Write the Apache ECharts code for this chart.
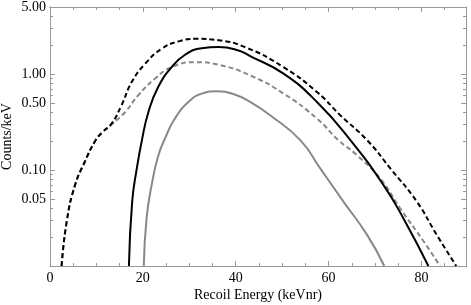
<!DOCTYPE html>
<html><head><meta charset="utf-8">
<script src="https://cdn.jsdelivr.net/npm/echarts@6/dist/echarts.min.js"></script>
<style>html,body{margin:0;padding:0;background:#fff}#c{width:471px;height:305px}</style>
</head><body><div id="c"></div>
<script>
// Black dashed
const bdX = [2.5, 3.6, 5.4, 7.5, 9.7, 11.2, 13.3, 15.4, 17.6, 20.5, 24.1, 27.7, 31.3, 36.3, 42, 50.3, 57.5, 62.5, 68.3, 73.3, 79, 83.3, 87.5];
const bdY = [0.01, 0.029, 0.07, 0.122, 0.2, 0.245, 0.306, 0.473, 0.826, 1.28, 1.84, 2.19, 2.33, 2.25, 1.91, 1.18, 0.65, 0.373, 0.205, 0.104, 0.0469, 0.0211, 0.01];
// Gray dashed
const gdX = [2.5, 3.6, 5.4, 7.5, 9.7, 11.2, 13.3, 16.2, 19, 22.6, 26.2, 31.3, 36.3, 43.1, 50.3, 57.5, 62.1, 66.1, 71.1, 75.4, 80.5, 84];
const gdY = [0.01, 0.029, 0.07, 0.122, 0.2, 0.245, 0.3, 0.403, 0.6, 0.895, 1.18, 1.33, 1.25, 0.97, 0.626, 0.344, 0.205, 0.143, 0.082, 0.04, 0.018, 0.01];
// Black solid
const bsX = [17, 17.7, 18.7, 19.8, 21.2, 23.3, 26.2, 29.1, 32.7, 36.3, 40.6, 43.1, 50.3, 57.5, 64.7, 71.8, 76.1, 81.5];
const bsY = [0.01, 0.0469, 0.104, 0.205, 0.403, 0.733, 1.18, 1.59, 1.86, 1.91, 1.76, 1.54, 1.01, 0.512, 0.205, 0.07, 0.0315, 0.01];
// Gray solid
const gsX = [20.2, 20.8, 21.9, 23.3, 24.8, 26.9, 29.8, 32.7, 35.9, 39.9, 43.1, 47.4, 53.9, 58.2, 63.2, 68.3, 72];
const gsY = [0.01, 0.0315, 0.07, 0.14, 0.215, 0.344, 0.512, 0.626, 0.661, 0.61, 0.512, 0.373, 0.205, 0.104, 0.0469, 0.0211, 0.01];

const xMajor = [0, 20, 40, 60, 80];
const xMinor = [5, 10, 15, 25, 30, 35, 45, 50, 55, 65, 70, 75, 85];
const yMajor = [0.05, 0.1, 0.5, 1, 5];
const yMinor = [0.02, 0.03, 0.04, 0.06, 0.07, 0.08, 0.09, 0.2, 0.3, 0.4, 0.6, 0.7, 0.8, 0.9, 2, 3, 4];

const zip = (xs, ys) => xs.map((x, i) => [x, ys[i]]);
const font = 'Liberation Serif';
const frame = '#999';

function xAx(pos, ticks, len, labels, name) {
  return {
    type: 'value', position: pos, min: 0, max: 89.6,
    axisLine: {show: true, onZero: false, lineStyle: {color: frame, width: 1}},
    axisTick: {show: true, inside: true, length: len, customValues: ticks, lineStyle: {color: frame}},
    axisLabel: labels ? {show: true, customValues: ticks, color: '#000', fontFamily: font, fontSize: 14, margin: 5} : {show: false},
    splitLine: {show: false},
    name: name || '', nameLocation: 'middle', nameGap: 22, nameMoveOverlap: false,
    nameTextStyle: {color: '#000', fontFamily: font, fontSize: 14}
  };
}
function yAx(pos, ticks, len, labels, name) {
  return {
    type: 'log', logBase: 10, position: pos, min: 0.01, max: 5,
    axisLine: {show: true, onZero: false, lineStyle: {color: frame, width: 1}},
    axisTick: {show: true, inside: true, length: len, customValues: ticks, lineStyle: {color: frame}},
    axisLabel: labels ? {show: true, customValues: ticks, color: '#000', fontFamily: font, fontSize: 14, margin: 4,
      formatter: v => Number(v).toFixed(2)} : {show: false},
    splitLine: {show: false},
    name: name || '', nameLocation: 'middle', nameGap: 36, nameMoveOverlap: false,
    nameTextStyle: {color: '#000', fontFamily: font, fontSize: 14}
  };
}

const chart = echarts.init(document.getElementById('c'), null, {renderer: 'canvas'});
chart.setOption({
  animation: false,
  grid: {left: 50, right: 5, top: 7, bottom: 39, containLabel: false, outerBoundsMode: 'none'},
  xAxis: [
    xAx('bottom', xMajor, 5, true, 'Recoil Energy (keVnr)'),
    xAx('top', xMinor, 3, false),
    xAx('top', xMajor, 5, false),
    xAx('bottom', xMinor, 3, false)
  ],
  yAxis: [
    yAx('left', yMajor, 5, true, 'Counts/keV'),
    yAx('right', yMinor, 3, false),
    yAx('right', yMajor, 5, false),
    yAx('left', yMinor, 3, false)
  ],
  series: [
    {type: 'line', data: zip(gsX, gsY), smooth: 0.5, showSymbol: false, lineStyle: {color: '#888', width: 2}},
    {type: 'line', data: zip(gdX, gdY), smooth: 0.5, showSymbol: false, lineStyle: {color: '#888', width: 2, type: [5, 3]}},
    {type: 'line', data: zip(bsX, bsY), smooth: 0.5, showSymbol: false, lineStyle: {color: '#000', width: 2}},
    {type: 'line', data: zip(bdX, bdY), smooth: 0.5, showSymbol: false, lineStyle: {color: '#000', width: 2, type: [5, 3]}}
  ]
});
</script></body></html>
